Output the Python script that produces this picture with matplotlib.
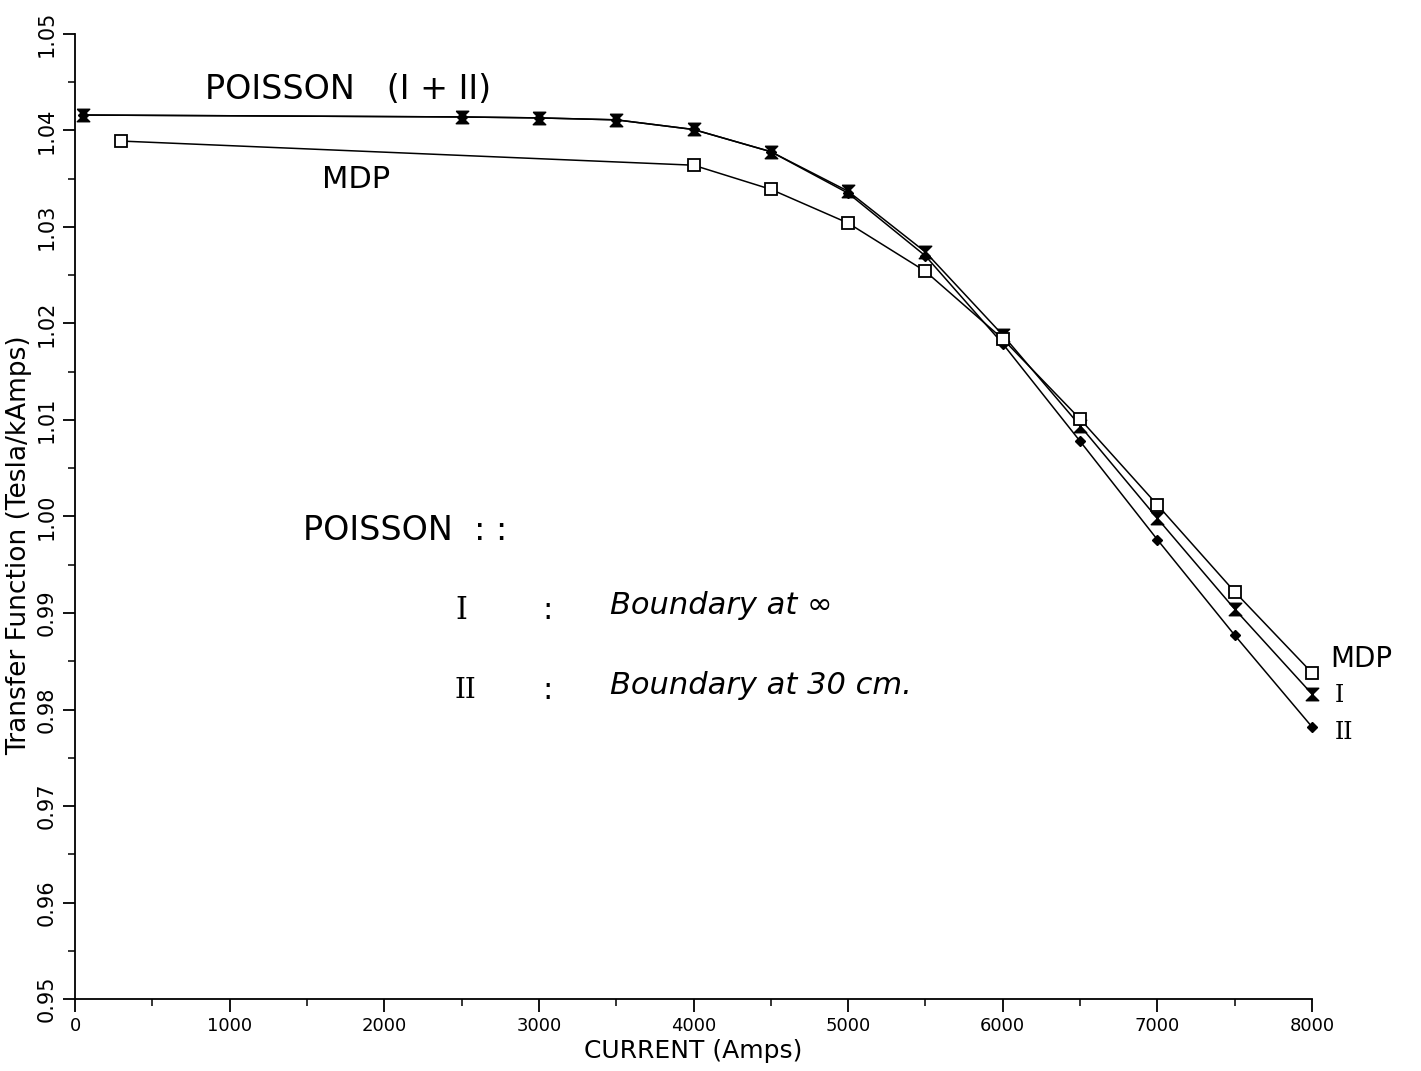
import matplotlib
matplotlib.use("Agg")
import matplotlib.pyplot as plt
from matplotlib.ticker import MultipleLocator

# data (current in Amps, transfer function in T/kA)
poisson1_x = [50, 2500, 3000, 3500, 4000, 4500, 5000, 5500, 6000, 6500, 7000, 7500, 8000]
poisson1_y = [1.0416, 1.0414, 1.0413, 1.0411, 1.0401, 1.0378, 1.0337, 1.0274, 1.0188,
              1.0094, 0.9998, 0.9904, 0.9816]

poisson2_x = [50, 2500, 3000, 3500, 4000, 4500, 5000, 5500, 6000, 6500, 7000, 7500, 8000]
poisson2_y = [1.0416, 1.0414, 1.0413, 1.0411, 1.0401, 1.0378, 1.0335, 1.0270, 1.0179,
              1.0078, 0.9976, 0.9877, 0.9782]

mdp_x = [300, 4000, 4500, 5000, 5500, 6000, 6500, 7000, 7500, 8000]
mdp_y = [1.0389, 1.0364, 1.0339, 1.0304, 1.0254, 1.0184, 1.0101, 1.0012, 0.9922, 0.9838]

x_ticks = [0, 1000, 2000, 3000, 4000, 5000, 6000, 7000, 8000]
y_ticks = [0.95, 0.96, 0.97, 0.98, 0.99, 1.00, 1.01, 1.02, 1.03, 1.04, 1.05]

hourglass = [(-1, 1), (1, 1), (-1, -1), (1, -1), (-1, 1)]

fig = plt.figure(figsize=(14.21, 10.71), dpi=100)
ax = fig.add_axes([0.0528, 0.0672, 0.8705, 0.9011])

ax.plot(poisson2_x, poisson2_y, color="black", lw=1.1, marker="D", ms=5,
        mfc="black", mec="black", clip_on=False, zorder=3)
ax.plot(poisson1_x, poisson1_y, color="black", lw=1.1, marker=hourglass, ms=9,
        mfc="black", mec="black", mew=1.0, clip_on=False, zorder=4)
ax.plot(mdp_x, mdp_y, color="black", lw=1.1, marker="s", ms=9,
        mfc="white", mec="black", mew=1.3, clip_on=False, zorder=5)

ax.set_xlim(0, 8000)
ax.set_ylim(0.95, 1.05)
ax.set_xticks(x_ticks)
ax.set_xticklabels([str(v) for v in x_ticks])
ax.set_yticks(y_ticks)
ax.set_yticklabels([f"{v:.2f}" for v in y_ticks], rotation=90, va="center")
ax.xaxis.set_minor_locator(MultipleLocator(500))
ax.yaxis.set_minor_locator(MultipleLocator(0.005))

for s in ("top", "right"):
    ax.spines[s].set_visible(False)
for s in ("left", "bottom"):
    ax.spines[s].set_linewidth(1.3)

ax.tick_params(which="major", direction="out", length=9, width=1.3, pad=4)
ax.tick_params(axis="x", which="major", labelsize=13)
ax.tick_params(axis="y", which="major", labelsize=15)
ax.tick_params(which="minor", direction="out", length=5, width=1.1)

ax.set_xlabel("CURRENT (Amps)", fontsize=18, labelpad=3)
ax.set_ylabel("Transfer Function (Tesla/kAmps)", fontsize=19)
ax.yaxis.set_label_coords(-0.035, 0.47)

# hand-written annotations
hand = dict(color="black", fontsize=24, clip_on=False)
ax.text(841, 1.0442, "POISSON   (I + II)", va="center", ha="left", **hand)
ax.text(1600, 1.0349, "MDP", va="center", ha="left", fontsize=22, color="black")
ax.text(1474, 0.9985, "POISSON  : :", va="center", ha="left", **hand)
ax.text(2457, 0.9903, "I", va="center", ha="left", family="DejaVu Serif", fontsize=22)
ax.text(3020, 0.9903, ":", va="center", ha="left", fontsize=22)
ax.text(3460, 0.9908, "Boundary at \u221e", va="center", ha="left", fontsize=22,
        style="italic")
ax.text(2457, 0.9820, "II", va="center", ha="left", family="DejaVu Serif", fontsize=20)
ax.text(3020, 0.9820, ":", va="center", ha="left", fontsize=22)
ax.text(3460, 0.9825, "Boundary at 30 cm.", va="center", ha="left", fontsize=22,
        style="italic")

ax.text(8120, 0.9852, "MDP", va="center", ha="left", fontsize=20, clip_on=False)
ax.text(8150, 0.9815, "I", va="center", ha="left", family="DejaVu Serif",
        fontsize=17, clip_on=False)
ax.text(8150, 0.9776, "II", va="center", ha="left", family="DejaVu Serif",
        fontsize=17, clip_on=False)

fig.savefig("out.png", dpi=100)
